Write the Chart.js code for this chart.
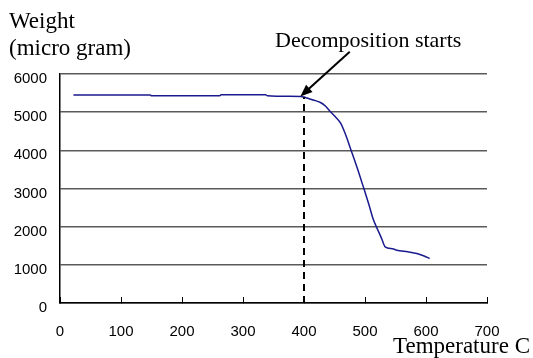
<!DOCTYPE html>
<html>
<head>
<meta charset="utf-8">
<script src="https://cdn.jsdelivr.net/npm/chart.js@4/dist/chart.umd.min.js"></script>
<style>
  body { margin: 0; background: #fff; }
  #wrap { width: 533px; height: 358px; }
</style>
</head>
<body>
<div id="wrap"><canvas id="tga-chart" width="533" height="358"></canvas></div>
<script>
// temperature (C) and weight (micro gram)
const temps = [22, 148, 150, 262, 264, 337, 340, 395, 400, 405, 415, 427, 435, 443, 452, 460, 468, 476, 487, 498, 506, 514, 520, 527, 533, 545, 552, 570, 585, 597, 606];
const weights = [5450, 5450, 5430, 5430, 5455, 5455, 5430, 5410, 5395, 5370, 5320, 5254, 5160, 5017, 4870, 4712, 4420, 4056, 3550, 3005, 2600, 2172, 1950, 1700, 1471, 1420, 1384, 1340, 1297, 1230, 1166];

// dashed marker where decomposition starts
const startTemp = 400;
const startWeight = 5390;

// arrow: tail (near the text) -> tip (on the curve), in data units
const arrowTail = [475, 6580];
const arrowTip = [394, 5410];

const xTicks = [0, 100, 200, 300, 400, 500, 600, 700];
const yTicks = [0, 1000, 2000, 3000, 4000, 5000, 6000];

const serif = "'Liberation Serif', 'Times New Roman', serif";
const sans = "'Liberation Sans', Arial, sans-serif";

let curve = [];
for (let i = 0; i < temps.length; i++) {
    curve.push({ x: temps[i], y: weights[i] });
}

// texts + arrow
const notes = {
    id: 'notes',
    afterDraw(chart) {
        const ctx = chart.ctx;
        const xs = chart.scales.x;
        const ys = chart.scales.y;
        ctx.save();
        ctx.fillStyle = '#000';
        ctx.textBaseline = 'alphabetic';
        ctx.textAlign = 'left';
        ctx.font = '23px ' + serif;
        ctx.fillText('Weight', 9, 28);
        ctx.fillText('(micro gram)', 9, 55);
        ctx.fillText('Temperature C', 393, 353);
        ctx.font = '22px ' + serif;
        ctx.fillText('Decomposition starts', 275, 47);

        // arrow
        const x1 = xs.getPixelForValue(arrowTail[0]), y1 = ys.getPixelForValue(arrowTail[1]);
        const x2 = xs.getPixelForValue(arrowTip[0]), y2 = ys.getPixelForValue(arrowTip[1]);
        const ang = Math.atan2(y2 - y1, x2 - x1);
        const head = 13;
        ctx.strokeStyle = '#000';
        ctx.lineWidth = 2;
        ctx.beginPath();
        ctx.moveTo(x1, y1);
        ctx.lineTo(x2 - Math.cos(ang) * head * 0.8, y2 - Math.sin(ang) * head * 0.8);
        ctx.stroke();
        ctx.beginPath();
        ctx.moveTo(x2, y2);
        ctx.lineTo(x2 - head * Math.cos(ang - 0.38), y2 - head * Math.sin(ang - 0.38));
        ctx.lineTo(x2 - head * Math.cos(ang + 0.38), y2 - head * Math.sin(ang + 0.38));
        ctx.closePath();
        ctx.fill();
        ctx.restore();
    }
};

new Chart(document.getElementById('tga-chart'), {
    type: 'scatter',
    data: {
        datasets: [
            {
                data: [{ x: startTemp, y: 0 }, { x: startTemp, y: startWeight }],
                showLine: true,
                borderColor: '#000',
                borderWidth: 2,
                borderDash: [7, 5],
                pointRadius: 0
            },
            {
                data: curve,
                showLine: true,
                borderColor: '#1a1a8f',
                borderWidth: 1.5,
                pointRadius: 0,
                cubicInterpolationMode: 'monotone'
            }
        ]
    },
    options: {
        responsive: false,
        animation: false,
        events: [],
        layout: { padding: { left: 0, top: 74, right: 46, bottom: 0 } },
        plugins: {
            legend: { display: false },
            tooltip: { enabled: false }
        },
        scales: {
            x: {
                type: 'linear',
                min: 0,
                max: 700,
                afterBuildTicks: (s) => { s.ticks = xTicks.map(v => ({ value: v })); },
                afterFit: (s) => { s.height = 55; },
                border: { display: true, color: '#000', width: 1.5 },
                grid: { drawOnChartArea: false, drawTicks: true, tickLength: -6, color: '#000', lineWidth: 1 },
                ticks: { padding: 26, color: '#000', font: { family: sans, size: 15 }, maxRotation: 0,
                         callback: (v) => String(v) }
            },
            y: {
                min: 0,
                max: 6000,
                afterBuildTicks: (s) => { s.ticks = yTicks.map(v => ({ value: v })); },
                afterFit: (s) => { s.width = 60; },
                border: { display: true, color: '#000', width: 1.5 },
                grid: { color: '#5a5a5a', lineWidth: 1.5, drawTicks: false },
                ticks: { padding: 13, labelOffset: 5, color: '#000', font: { family: sans, size: 15 },
                         callback: (v) => String(v) }
            }
        }
    },
    plugins: [notes]
});
</script>
</body>
</html>
